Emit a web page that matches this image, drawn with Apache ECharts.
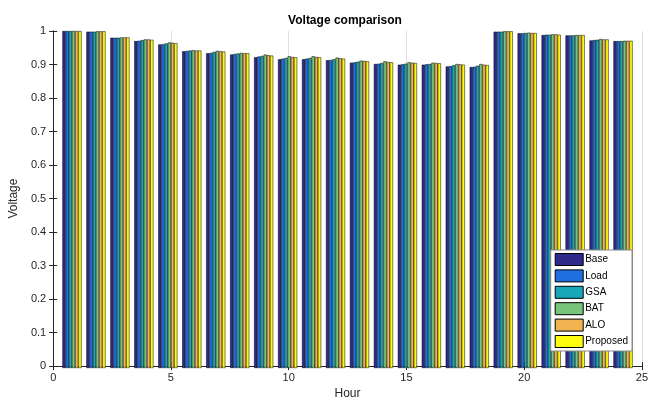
<!DOCTYPE html>
<html>
<head>
<meta charset="utf-8">
<script src="https://cdn.jsdelivr.net/npm/echarts@6/dist/echarts.min.js"></script>
<style>html,body{margin:0;padding:0;background:#fff}#c{width:651px;height:405px}</style>
</head>
<body>
<div id="c"></div>
<script>
const hours = ['1','2','3','4','5','6','7','8','9','10','11','12','13','14','15','16','17','18','19','20','21','22','23','24'];
const xTicks = [0, 5, 10, 15, 20, 25];
const yTicks = [0, 0.1, 0.2, 0.3, 0.4, 0.5, 0.6, 0.7, 0.8, 0.9, 1];
const seriesNames = ['Base', 'Load', 'GSA', 'BAT', 'ALO', 'Proposed'];
const base     = [1.000,0.998,0.980,0.970,0.960,0.940,0.934,0.930,0.922,0.916,0.916,0.913,0.906,0.902,0.900,0.900,0.895,0.893,0.998,0.993,0.988,0.987,0.972,0.970];
const load     = [1.000,0.998,0.980,0.971,0.961,0.941,0.935,0.932,0.924,0.918,0.918,0.914,0.907,0.903,0.901,0.901,0.896,0.894,0.998,0.993,0.989,0.987,0.973,0.970];
const gsa      = [1.000,0.998,0.980,0.973,0.963,0.942,0.938,0.933,0.926,0.920,0.920,0.916,0.909,0.905,0.903,0.902,0.898,0.897,0.998,0.994,0.989,0.987,0.974,0.970];
const bat      = [1.000,0.999,0.981,0.975,0.966,0.943,0.941,0.935,0.930,0.925,0.925,0.921,0.912,0.910,0.907,0.906,0.902,0.902,0.999,0.995,0.990,0.988,0.976,0.971];
const alo      = [1.000,0.999,0.981,0.975,0.965,0.942,0.940,0.934,0.928,0.923,0.923,0.919,0.911,0.908,0.906,0.905,0.901,0.900,0.999,0.994,0.990,0.988,0.975,0.971];
const proposed = [1.000,0.999,0.981,0.974,0.964,0.942,0.939,0.934,0.927,0.922,0.922,0.918,0.910,0.907,0.905,0.904,0.900,0.899,0.999,0.994,0.989,0.988,0.975,0.971];
const values = [base, load, gsa, bat, alo, proposed];
const colors = ['#2e2a8c', '#1f6fe0', '#18a7b8', '#78c67b', '#f2b450', '#fcfc10'];

const font = 'Liberation Sans, Arial, Helvetica, sans-serif';
const chart = echarts.init(document.getElementById('c'));
const axisLine = {show: true, lineStyle: {color: '#262626', width: 1}};
const tick = {show: true, inside: true, length: 4, lineStyle: {color: '#262626'}};
chart.setOption({
  animation: false,
  backgroundColor: '#fff',
  title: {
    text: 'Voltage comparison', left: 340, top: 10, textAlign: 'center',
    textStyle: {fontFamily: font, fontSize: 12, fontWeight: 'bold', color: '#000'}
  },
  legend: {
    orient: 'vertical', right: 19, top: 250,
    data: seriesNames.map(n => ({name: n, icon: 'rect'})),
    itemWidth: 28, itemHeight: 12, itemGap: 3.4,
    backgroundColor: '#fff', borderColor: '#8a8a8a', borderWidth: 1,
    padding: [3, 4, 3, 4],
    textStyle: {fontFamily: font, fontSize: 10, color: '#000', padding: [0, 0, 0, -3]},
    itemStyle: {borderColor: '#000', borderWidth: 1}
  },
  grid: [
    {left: 48, right: 4, top: 31, bottom: 37, show: false},
    {left: 60, right: 16, top: 31, bottom: 37, show: false}
  ],
  xAxis: [
    {
      type: 'value', gridIndex: 0, min: 0, max: 25, interval: 5,
      axisLine: axisLine, axisTick: tick,
      axisLabel: {fontFamily: font, fontSize: 11, color: '#262626', margin: 6,
        formatter: v => xTicks.includes(v) ? String(v) : ''},
      splitLine: {show: true, lineStyle: {color: '#dedede', width: 1}},
      name: 'Hour', nameLocation: 'middle', nameGap: 19,
      nameTextStyle: {fontFamily: font, fontSize: 12, color: '#262626'}
    },
    {
      type: 'value', gridIndex: 0, position: 'top', min: 0, max: 25, interval: 5,
      axisLine: axisLine, axisTick: tick, axisLabel: {show: false}, splitLine: {show: false}
    },
    {
      type: 'category', gridIndex: 1, data: hours, show: false
    }
  ],
  yAxis: [
    {
      type: 'value', gridIndex: 0, min: 0, max: 1, interval: 0.1,
      axisLine: axisLine, axisTick: tick,
      axisLabel: {fontFamily: font, fontSize: 11, color: '#262626', margin: 7,
        formatter: v => { const r = Math.round(v * 10) / 10; return yTicks.includes(r) ? String(r) : ''; }},
      splitLine: {show: false},
      name: 'Voltage', nameLocation: 'middle', nameGap: 32,
      nameTextStyle: {fontFamily: font, fontSize: 12, color: '#262626'}
    },
    {
      type: 'value', gridIndex: 0, position: 'right', min: 0, max: 1, interval: 0.1,
      axisLine: axisLine, axisTick: tick, axisLabel: {show: false}, splitLine: {show: false}
    },
    {
      type: 'value', gridIndex: 1, min: 0, max: 1, show: false
    }
  ],
  series: seriesNames.map((name, i) => ({
    name: name,
    type: 'bar',
    xAxisIndex: 2, yAxisIndex: 2,
    data: values[i],
    barCategoryGap: '20%', barGap: '0%',
    itemStyle: {color: colors[i], borderColor: '#000', borderWidth: 0.5},
    z: 2
  }))
});
</script>
</body>
</html>
